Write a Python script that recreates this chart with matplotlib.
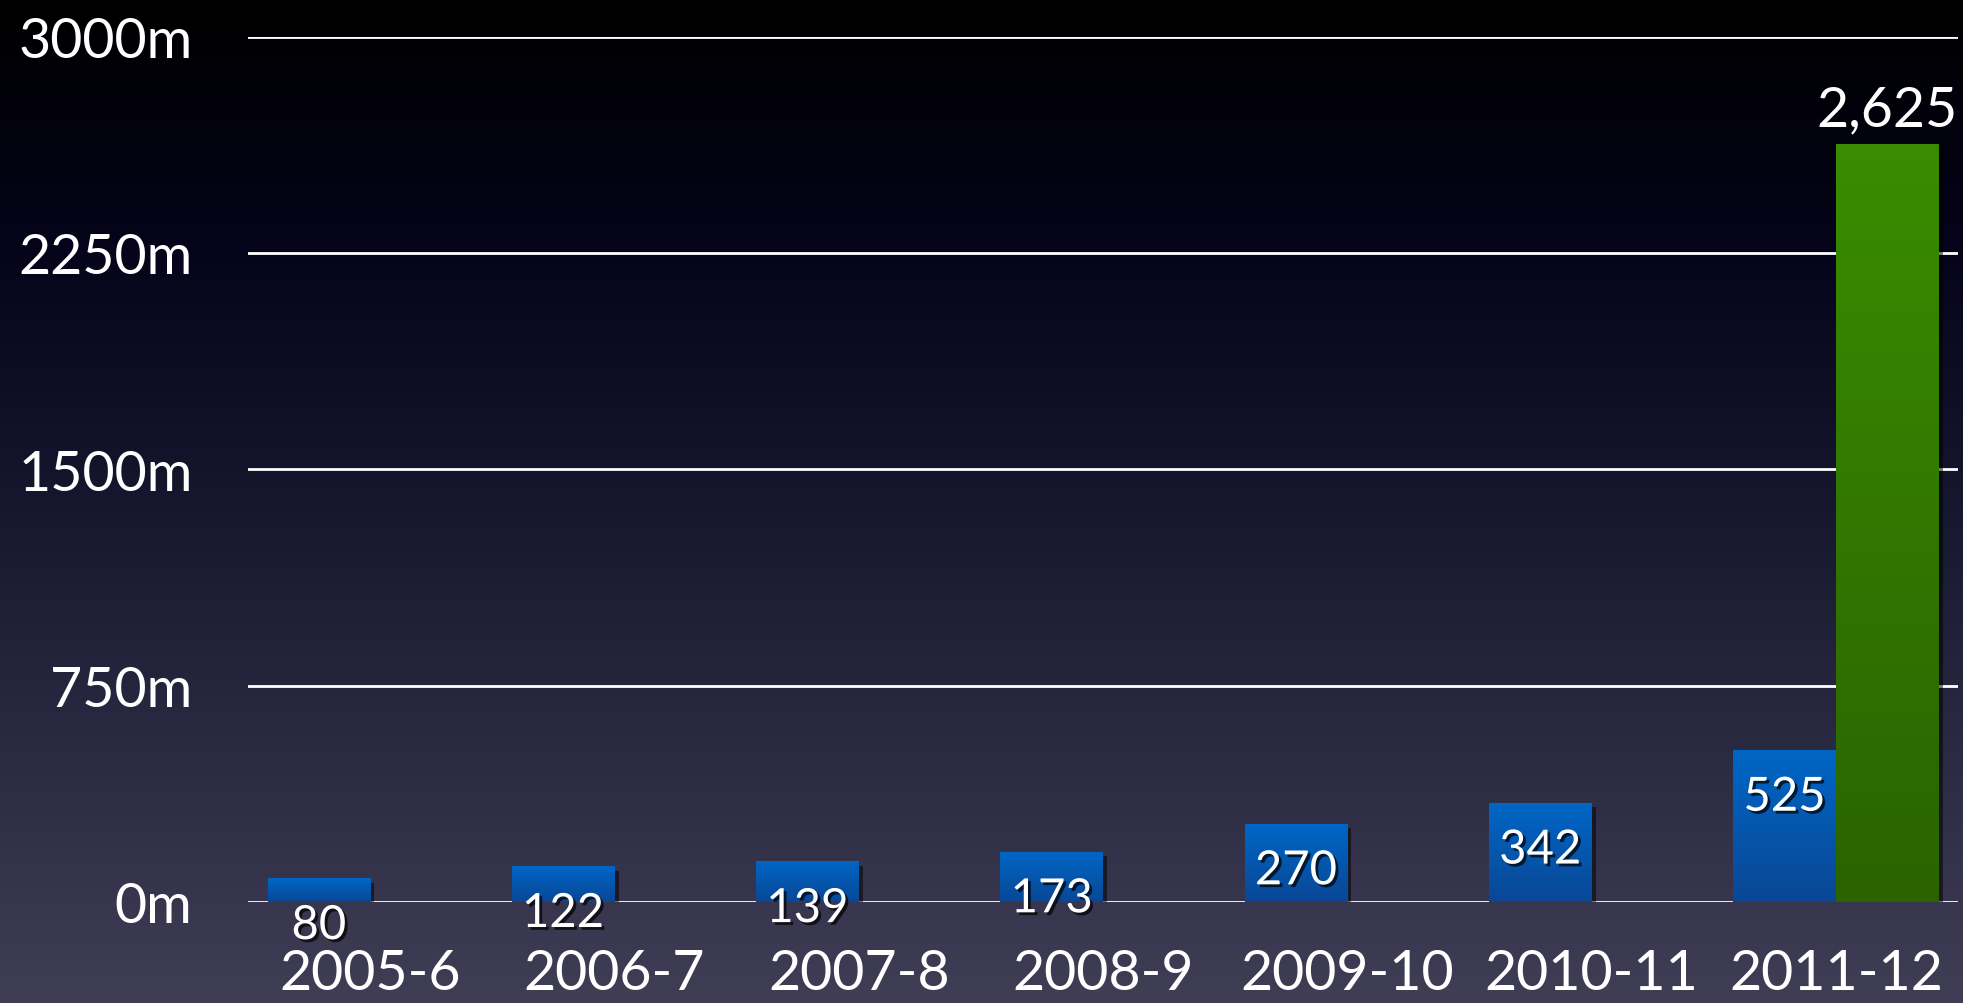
import numpy as np
import matplotlib
matplotlib.use("Agg")
import matplotlib.pyplot as plt
from matplotlib import patheffects as pe
from matplotlib.colors import LinearSegmentedColormap

plt.rcParams['font.family'] = ['Lato', 'DejaVu Sans']

seasons = ['2005-6', '2006-7', '2007-8', '2008-9', '2009-10', '2010-11', '2011-12']
blue_vals = [80, 122, 139, 173, 270, 342, 525]
green_vals = [0, 0, 0, 0, 0, 0, 2625]
green_labels = ['', '', '', '', '', '', '2,625']
yticks = [0, 750, 1500, 2250, 3000]
ytick_labels = ['0m', '750m', '1500m', '2250m', '3000m']

W, H = 1963, 1004
fig = plt.figure(figsize=(W / 100, H / 100), dpi=100)

# background gradient
bg = fig.add_axes([0, 0, 1, 1])
bg_cmap = LinearSegmentedColormap.from_list(
    'bg', [(0, '#000000'), (0.25, '#05041a'), (0.5, '#16162e'),
           (0.75, '#2a2a43'), (1.0, '#403e55')])
grad = np.linspace(0, 1, 256).reshape(-1, 1)
bg.imshow(grad, aspect='auto', cmap=bg_cmap, extent=[0, 1, 1, 0])
bg.axis('off')

ax = fig.add_axes([248 / W, 101 / H, 1710 / W, 865.5 / H])
ax.patch.set_alpha(0)

x = np.arange(len(seasons)) + 0.5
bw = 0.42

blue_cmap = LinearSegmentedColormap.from_list('b', ['#0a4795', '#0066c6'])
green_cmap = LinearSegmentedColormap.from_list('g', ['#2a6300', '#3a8c00'])

shadow = [pe.SimplePatchShadow(offset=(3, -3), alpha=0.5, shadow_rgbFace='black'), pe.Normal()]
bars_b = ax.bar(x - bw / 2, blue_vals, width=bw, facecolor='#0058b0', zorder=3,
                path_effects=shadow)
bars_g = ax.bar(x + bw / 2, green_vals, width=bw, facecolor='#317800', zorder=3,
                path_effects=shadow)

for bars, cmap in [(bars_b, blue_cmap), (bars_g, green_cmap)]:
    for b in bars:
        h = b.get_height()
        if h <= 0:
            continue
        x0 = b.get_x()
        ax.imshow(grad[::-1], aspect='auto', cmap=cmap, zorder=4,
                  extent=[x0, x0 + b.get_width(), 0, h])
ax.set_xlim(0, len(seasons))
ax.set_ylim(0, 3000)

txt_shadow = [pe.withSimplePatchShadow(offset=(2, -2), alpha=0.7, shadow_rgbFace='black')]
for xi, v in zip(x - bw / 2, blue_vals):
    ax.annotate(str(v), (xi, v), xytext=(0, -34), textcoords='offset points',
                ha='center', va='center', color='white', fontsize=34, zorder=6,
                annotation_clip=False, path_effects=txt_shadow)
for xi, v, lab in zip(x + bw / 2, green_vals, green_labels):
    if lab:
        ax.annotate(lab, (xi, v), xytext=(0, 25), textcoords='offset points',
                    ha='center', va='center', color='white', fontsize=40, zorder=6,
                    annotation_clip=False)

ax.set_yticks(yticks)
ax.set_yticklabels(ytick_labels)
ax.set_xticks(x)
ax.set_xticklabels(seasons)
ax.tick_params(axis='y', length=0, pad=40, labelsize=40, labelcolor='white')
ax.tick_params(axis='x', length=0, pad=33, labelsize=40, labelcolor='white')
ax.grid(axis='y', color='white', linewidth=2, zorder=1)
ax.set_axisbelow(True)
for s in ax.spines.values():
    s.set_visible(False)

fig.savefig('out.png', dpi=100)
